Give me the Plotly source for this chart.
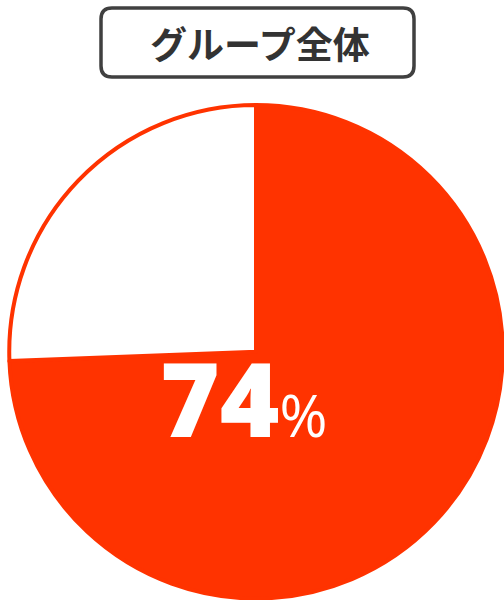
import plotly.graph_objects as go

W, H = 504, 600
labels = ["該当", "非該当"]
values = [74.4, 25.6]
title_text = "グループ全体"
center_value = "74"
center_unit = "%"

RED = "#FF3300"

fig = go.Figure(go.Pie(
    labels=labels, values=values, sort=False, direction="clockwise", rotation=0,
    marker=dict(colors=[RED, "#FFFFFF"], line=dict(color=RED, width=4)),
    textinfo="none", hoverinfo="skip", showlegend=False,
    domain=dict(x=[8 / W, 504 / W], y=[1.5 / H, (H - 105) / H]),
))

def px(x):
    return x / W

def py(y):
    return 1 - y / H

# rounded rectangle for title box
x0, x1, y0, y1, r = 101, 414, 8, 77, 11
path = (
    f"M {px(x0 + r)},{py(y0)} L {px(x1 - r)},{py(y0)} Q {px(x1)},{py(y0)} {px(x1)},{py(y0 + r)} "
    f"L {px(x1)},{py(y1 - r)} Q {px(x1)},{py(y1)} {px(x1 - r)},{py(y1)} "
    f"L {px(x0 + r)},{py(y1)} Q {px(x0)},{py(y1)} {px(x0)},{py(y1 - r)} "
    f"L {px(x0)},{py(y0 + r)} Q {px(x0)},{py(y0)} {px(x0 + r)},{py(y0)} Z"
)
fig.add_shape(type="path", path=path, xref="paper", yref="paper",
              line=dict(color="#404040", width=3.5), fillcolor="white")

fig.add_annotation(text=f"<b>{title_text}</b>", x=px(260), y=py(43), xref="paper", yref="paper",
                   showarrow=False, xanchor="center", yanchor="middle",
                   font=dict(family="Noto Sans CJK JP", size=37, color="#333333"))

fig.add_annotation(text=f"{center_value}<span style='font-size:58px;font-weight:400'>{center_unit}</span>",
                   x=px(243), y=py(397), xref="paper", yref="paper",
                   showarrow=False, xanchor="center", yanchor="middle",
                   font=dict(family="Open Sans", size=102, color="white", weight=800))

fig.update_layout(width=W, height=H, margin=dict(l=0, r=0, t=0, b=0),
                  paper_bgcolor="white", plot_bgcolor="white")
fig.write_html("out.html", config={"displayModeBar": False},
               post_script="document.body.style.margin='0px';")
